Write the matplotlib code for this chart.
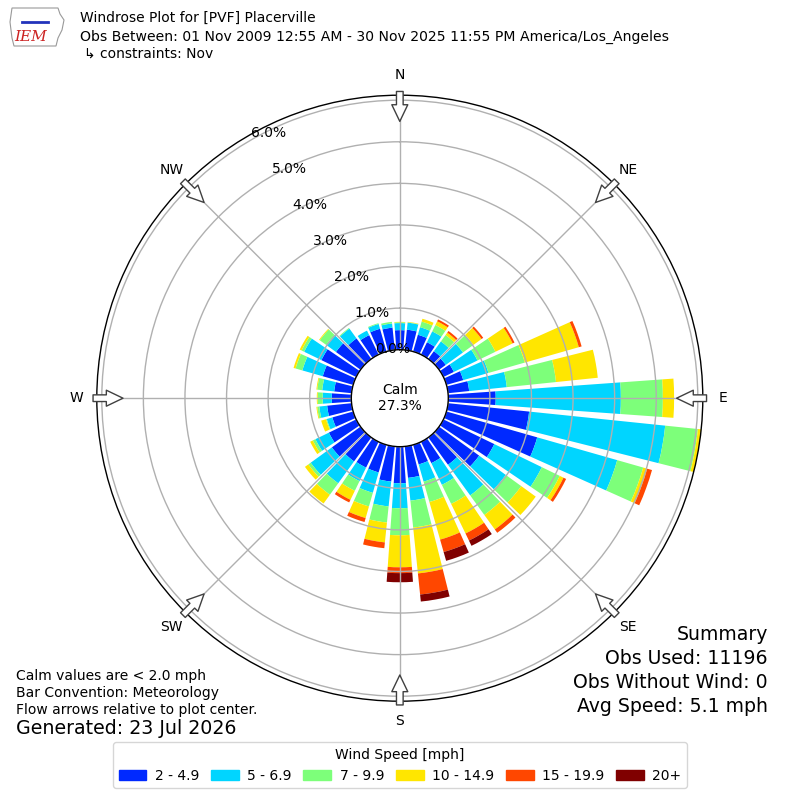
import numpy as np
import matplotlib
matplotlib.use("Agg")
import matplotlib.pyplot as plt
from matplotlib.patches import FancyArrowPatch, Polygon, Rectangle

# ---------------- data (percent of observations) ----------------
directions = list(range(0, 360, 10))
speed_bins = ["2 - 4.9", "5 - 6.9", "7 - 9.9", "10 - 14.9", "15 - 19.9", "20+"]

s_2_5 = [0.47, 0.49, 0.42, 0.33, 0.23, 0.20, 0.28, 0.42, 0.51, 1.14, 1.96, 2.27,
         1.36, 1.19, 0.81, 0.57, 0.49, 0.76, 0.88, 0.85, 0.69, 0.69, 0.71, 0.85,
         0.73, 0.52, 0.59, 0.47, 0.42, 0.76, 0.93, 0.73, 0.61, 0.52, 0.57, 0.54]
s_5_7 = [0.17, 0.17, 0.19, 0.29, 0.29, 0.51, 0.63, 0.63, 0.91, 3.01, 3.29, 2.00,
         1.27, 0.79, 0.91, 0.58, 0.43, 0.55, 0.60, 0.60, 0.51, 0.36, 0.65, 0.63,
         0.36, 0.14, 0.19, 0.22, 0.29, 0.51, 0.46, 0.29, 0.29, 0.12, 0.12, 0.10]
s_7_10 = [0.02, 0.01, 0.14, 0.17, 0.19, 0.31, 0.48, 0.91, 1.19, 1.01, 0.79, 0.65,
          0.48, 0.46, 0.58, 0.51, 0.51, 0.65, 0.65, 0.39, 0.34, 0.26, 0.34, 0.07,
          0.07, 0.02, 0.05, 0.12, 0.12, 0.17, 0.07, 0.19, 0.02, 0.00, 0.02, 0.04]
s_10_15 = [0.01, 0.01, 0.07, 0.10, 0.07, 0.24, 0.46, 1.35, 1.01, 0.27, 0.12, 0.10,
           0.10, 0.43, 0.43, 0.79, 0.94, 1.11, 0.77, 0.48, 0.29, 0.24, 0.26, 0.10,
           0.07, 0.12, 0.02, 0.02, 0.02, 0.05, 0.05, 0.02, 0.00, 0.00, 0.00, 0.00]
s_15_20 = [0.00, 0.00, 0.00, 0.05, 0.05, 0.05, 0.05, 0.07, 0.00, 0.00, 0.00, 0.12,
           0.07, 0.00, 0.10, 0.19, 0.31, 0.51, 0.14, 0.14, 0.10, 0.07, 0.00, 0.00,
           0.00, 0.00, 0.00, 0.00, 0.00, 0.00, 0.00, 0.00, 0.00, 0.00, 0.00, 0.00]
s_20p = [0.00, 0.00, 0.00, 0.00, 0.00, 0.00, 0.00, 0.00, 0.00, 0.00, 0.00, 0.00,
         0.00, 0.00, 0.00, 0.14, 0.22, 0.17, 0.22, 0.00, 0.00, 0.00, 0.00, 0.00,
         0.00, 0.00, 0.00, 0.00, 0.00, 0.00, 0.00, 0.00, 0.00, 0.00, 0.00, 0.00]
series = [s_2_5, s_5_7, s_7_10, s_10_15, s_15_20, s_20p]

radial_ticks = [0, 1, 2, 3, 4, 5, 6]
compass = ["N", "NE", "E", "SE", "S", "SW", "W", "NW"]
calm_pct = 27.3

# ---------------- figure ----------------
fig = plt.figure(figsize=(8, 8), dpi=100)
ax = fig.add_axes([0.121, 0.1235, 0.7575, 0.7575], projection="polar")
ax.set_theta_zero_location("N")
ax.set_theta_direction(-1)

colors = [plt.cm.jet(v) for v in np.linspace(0, 1, 7)[1:]]
theta = np.deg2rad(directions)
width = np.deg2rad(8.2)
bottom = np.zeros(len(directions))
for vals, col, lab in zip(series, colors, speed_bins):
    vals = np.array(vals)
    ax.bar(theta, vals, width=width, bottom=bottom, color=col, linewidth=0,
           label=lab, zorder=1)
    bottom = bottom + vals

rmax = 6.12
ax.set_ylim(0, rmax)
ax.set_rorigin(-1.166)
ax.set_yticks(radial_ticks)
ax.set_yticklabels([])
ax.set_xticks(np.deg2rad(np.arange(0, 360, 45)))
ax.set_xticklabels([])
ax.grid(True, color="#b0b0b0", linewidth=1.0)
for sp in ax.spines.values():
    sp.set_color("black")
    sp.set_linewidth(1.0)

# radial labels
for t in radial_ticks:
    ax.text(np.deg2rad(330), t, f"{t:.1f}%", ha="left", va="bottom",
            fontsize=10, zorder=6)

# compass labels and arrows
for i, name in enumerate(compass):
    ang = np.deg2rad(i * 45)
    ax.text(ang, 6.60, name, ha="center", va="center", fontsize=10,
            clip_on=False)
    arr = FancyArrowPatch(posA=(ang, 6.21), posB=(ang, 5.49),
                          arrowstyle="simple,head_length=1.2,head_width=1.15,tail_width=0.48",
                          mutation_scale=10, shrinkA=0, shrinkB=0,
                          fc="white", ec="#404040", lw=1.0,
                          transform=ax.transData, clip_on=False, zorder=7)
    ax.add_patch(arr)

fig.text(0.5, 1 - 398 / 800, f"Calm\n{calm_pct:.1f}%", ha="center",
         va="center", fontsize=10)

# titles
fig.text(0.1, 1 - 18 / 800, "Windrose Plot for [PVF] Placerville",
         ha="left", va="center", fontsize=10)
fig.text(0.1, 1 - 37 / 800,
         "Obs Between: 01 Nov 2009 12:55 AM - 30 Nov 2025 11:55 PM America/Los_Angeles",
         ha="left", va="center", fontsize=10.1)
fig.text(0.105, 1 - 54 / 800, "↳ constraints: Nov", ha="left", va="center",
         fontsize=10)

# simple IEM logo
outline = [(12, 8), (58, 8), (60, 14), (64, 20), (62, 30), (58, 38), (56, 46),
           (14, 46), (12, 38), (10, 22)]
fig.add_artist(Polygon([(x / 800, 1 - y / 800) for x, y in outline],
                       closed=True, fill=False, ec="#999999", lw=0.8,
                       transform=fig.transFigure))
fig.add_artist(plt.Line2D([22 / 800, 48 / 800], [1 - 22 / 800, 1 - 22 / 800],
                          color="#2233bb", lw=2, transform=fig.transFigure))
fig.text(31 / 800, 1 - 37 / 800, "IEM", ha="center", va="center",
         fontsize=11, color="#cc2222", style="italic", family="DejaVu Serif")

# bottom-left notes
fig.text(0.02, 1 - 676 / 800, "Calm values are < 2.0 mph", fontsize=10,
         va="center")
fig.text(0.02, 1 - 693 / 800, "Bar Convention: Meteorology", fontsize=10,
         va="center")
fig.text(0.02, 1 - 710 / 800, "Flow arrows relative to plot center.",
         fontsize=10, va="center")
fig.text(0.02, 1 - 729 / 800, "Generated: 23 Jul 2026", fontsize=13.7,
         va="center")

# summary
summary = ["Summary", "Obs Used: 11196", "Obs Without Wind: 0",
           "Avg Speed: 5.1 mph"]
for s, y in zip(summary, [635, 659, 683, 706]):
    fig.text(0.96, 1 - y / 800, s, ha="right", va="center", fontsize=13.6)

handles = [Rectangle((0, 0), 1, 1, color=c) for c in colors]
fig.legend(handles, speed_bins, loc="lower center", ncol=6,
           bbox_to_anchor=(0.5, 0.006), title="Wind Speed [mph]",
           fontsize=10, title_fontsize=10, handletextpad=0.6,
           columnspacing=0.85)

fig.savefig("out.png", dpi=100)
